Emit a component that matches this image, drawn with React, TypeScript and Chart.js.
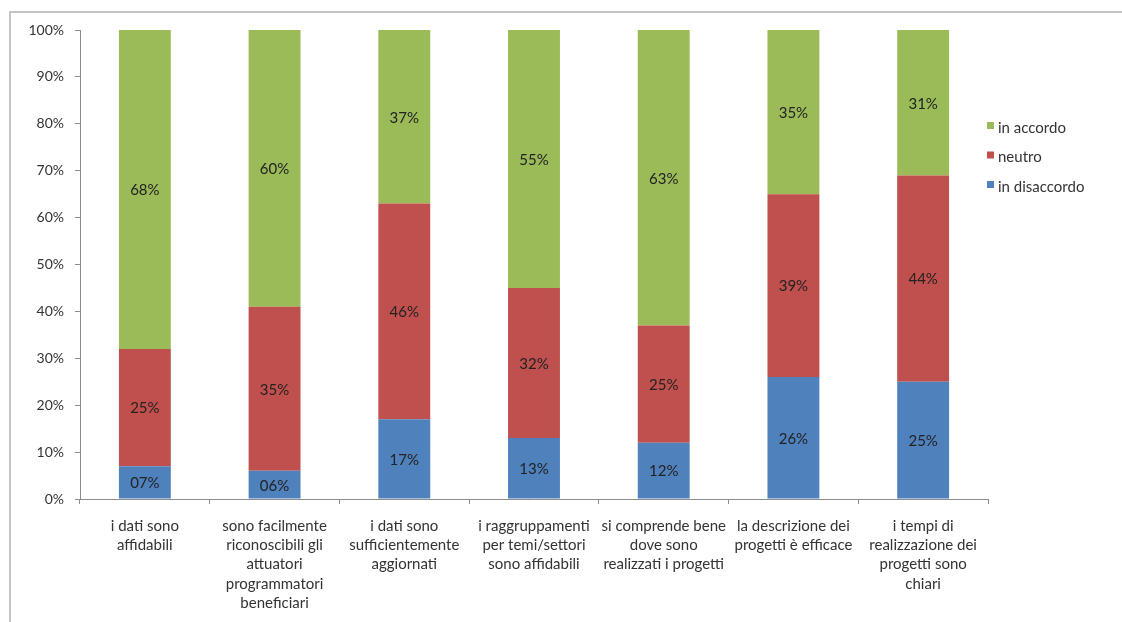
import React, { useEffect, useRef } from "react";
import { Chart, registerables } from "chart.js";

Chart.register(...registerables);

const categories: string[][] = [
  ["i dati sono", "affidabili"],
  ["sono facilmente", "riconoscibili gli", "attuatori", "programmatori", "beneficiari"],
  ["i dati sono", "sufficientemente", "aggiornati"],
  ["i raggruppamenti", "per temi/settori", "sono affidabili"],
  ["si comprende bene", "dove sono", "realizzati i progetti"],
  ["la descrizione dei", "progetti è efficace"],
  ["i tempi di", "realizzazione dei", "progetti sono", "chiari"],
];

const inDisaccordo = [7, 6, 17, 13, 12, 26, 25];
const neutro = [25, 35, 46, 32, 25, 39, 44];
const inAccordo = [68, 60, 37, 55, 63, 35, 31];

const seriesNames = ["in disaccordo", "neutro", "in accordo"];
const seriesColors = ["#4F81BD", "#C0504D", "#9BBB59"];

const yTicks = [0, 10, 20, 30, 40, 50, 60, 70, 80, 90, 100];

const FONT = "Lato, 'Open Sans', sans-serif";

const dataLabelPlugin = {
  id: "dataLabels",
  afterDatasetsDraw(chart: any) {
    const ctx = chart.ctx;
    ctx.save();
    ctx.font = `15px ${FONT}`;
    ctx.fillStyle = "#222";
    ctx.textAlign = "center";
    ctx.textBaseline = "middle";
    const top = chart.chartArea.top;
    chart.data.datasets.forEach((ds: any, di: number) => {
      const meta = chart.getDatasetMeta(di);
      meta.data.forEach((bar: any, i: number) => {
        const v = ds.data[i];
        const label = (v < 10 ? "0" : "") + v + "%";
        const y1 = Math.max(bar.y, top);
        const y = (y1 + bar.base) / 2 + 1;
        ctx.fillText(label, bar.x, y);
      });
    });
    ctx.restore();
  },
};

const legendPlugin = {
  id: "customLegend",
  afterDraw(chart: any) {
    const ctx = chart.ctx;
    ctx.save();
    ctx.font = `15px ${FONT}`;
    ctx.textBaseline = "middle";
    ctx.textAlign = "left";
    const x = chart.chartArea.right - 1;
    const order = [2, 1, 0];
    order.forEach((di, k) => {
      const y = 127 + k * 29.5;
      ctx.fillStyle = seriesColors[di];
      ctx.fillRect(x, y - 5, 7, 7);
      ctx.fillStyle = "#333";
      ctx.fillText(seriesNames[di], x + 11, y + 1);
    });
    ctx.restore();
  },
};

export default function App() {
  const ref = useRef<HTMLCanvasElement | null>(null);
  useEffect(() => {
    document.body.style.margin = "0";
    const chart = new Chart(ref.current!, {
      type: "bar",
      data: {
        labels: categories,
        datasets: [inDisaccordo, neutro, inAccordo].map((d, i) => ({
          label: seriesNames[i],
          data: d,
          backgroundColor: seriesColors[i],
          barPercentage: 0.4,
          categoryPercentage: 1,
        })),
      },
      options: {
        animation: false,
        responsive: false,
        maintainAspectRatio: false,
        layout: { padding: { left: 0, right: 134, top: 30, bottom: 0 } },
        plugins: {
          legend: { display: false },
          tooltip: { enabled: false },
        },
        scales: {
          x: {
            stacked: true,
            grid: {
              display: true,
              drawOnChartArea: false,
              offset: true,
              tickLength: 5,
              color: "#8c8c8c",
            },
            border: { color: "#8c8c8c", width: 1 },
            ticks: {
              autoSkip: false,
              maxRotation: 0,
              minRotation: 0,
              padding: 12,
              color: "#333",
              font: { family: FONT, size: 15, lineHeight: 1.29 },
            },
            afterFit(scale: any) {
              scale.height = 123;
            },
          },
          y: {
            stacked: true,
            min: 0,
            max: 100,
            afterBuildTicks(scale: any) {
              scale.ticks = yTicks.map((v) => ({ value: v }));
            },
            grid: {
              display: true,
              drawOnChartArea: false,
              tickLength: 5,
              color: "#8c8c8c",
            },
            border: { color: "#8c8c8c", width: 1 },
            ticks: {
              padding: 11,
              color: "#333",
              font: { family: FONT, size: 14 },
              callback: (v: any) => v + "%",
            },
            afterFit(scale: any) {
              scale.width = 80;
            },
          },
        },
      },
      plugins: [dataLabelPlugin, legendPlugin],
    });
    return () => chart.destroy();
  }, []);
  return (
    <div style={{ position: "relative", width: 1122, height: 622, overflow: "hidden", background: "#fff" }}>
      <div
        style={{
          position: "absolute",
          left: 9,
          top: 11,
          width: 1200,
          height: 700,
          border: "2px solid #c4c4c4",
          boxSizing: "border-box",
        }}
      />
      <canvas ref={ref} width={1122} height={622} style={{ position: "absolute", left: 0, top: 0, display: "block" }} />
    </div>
  );
}
